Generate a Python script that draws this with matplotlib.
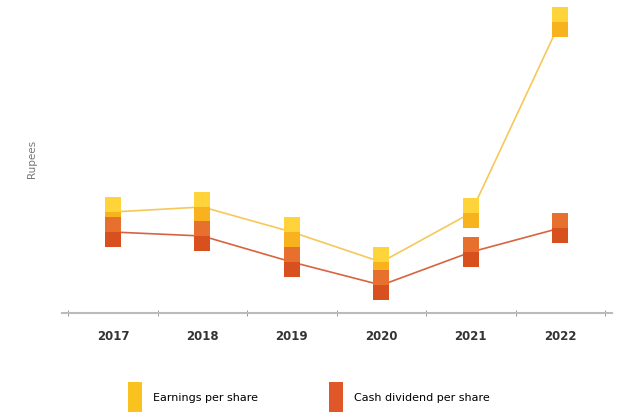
import matplotlib.pyplot as plt
from matplotlib.lines import Line2D
import numpy as np

years = ['2017', '2018', '2019', '2020', '2021', '2022']
earnings = [101, 106, 81, 51, 100, 291]
dividend = [81, 77, 51, 28, 61, 85]

# vertical "pill" markers, drawn as two halves to fake the gradient
top_half = [(-0.5, 0), (0.5, 0), (0.5, 1), (-0.5, 1), (-0.5, 0)]
bot_half = [(-0.5, -1), (0.5, -1), (0.5, 0), (-0.5, 0), (-0.5, -1)]
full_rect = [(-0.45, -1), (0.45, -1), (0.45, 1), (-0.45, 1), (-0.45, -1)]

fig = plt.figure(figsize=(6.26, 4.17), dpi=100)
ax = fig.add_axes([0.099, 0.249, 0.879, 0.74])
x = np.arange(len(years))

ax.plot(x, earnings, color='#f6c85a', lw=1.2, zorder=2)
ax.plot(x, dividend, color='#d8643f', lw=1.2, zorder=2)

ax.plot(x, earnings, ls='none', marker=bot_half, ms=22, color='#f7b21e', mew=0, zorder=3)
ax.plot(x, earnings, ls='none', marker=top_half, ms=22, color='#ffd43a', mew=0, zorder=3)
ax.plot(x, dividend, ls='none', marker=bot_half, ms=22, color='#d9501f', mew=0, zorder=4)
ax.plot(x, dividend, ls='none', marker=top_half, ms=22, color='#e8702f', mew=0, zorder=4)

ax.set_xlim(-0.57, 5.58)
ax.set_ylim(0, 308)
ax.set_yticks([])
ax.set_xticks(x)
ax.set_xticklabels(years, fontsize=8.5, fontweight='semibold', color='#333333')
ax.tick_params(axis='x', length=0, pad=12)
ax.set_xticks(np.arange(-0.5, 5.6, 1), minor=True)
ax.tick_params(axis='x', which='minor', length=4, direction='inout', color='#888888')
for s in ['top', 'right', 'left']:
    ax.spines[s].set_visible(False)
ax.spines['bottom'].set_color('#bbbbbb')
ax.spines['bottom'].set_linewidth(1.5)
ax.set_ylabel('Rupees', fontsize=7.5, color='#777777', labelpad=18)

handles = [
    Line2D([], [], ls='none', marker=full_rect, ms=22, color='#f9c21f', mew=0),
    Line2D([], [], ls='none', marker=full_rect, ms=22, color='#e0582a', mew=0),
]
fig.legend(handles, ['Earnings per share', 'Cash dividend per share'],
           loc='center', bbox_to_anchor=(0.49, 0.045), ncol=2, frameon=False,
           fontsize=8, columnspacing=6, handletextpad=0.6)

fig.savefig('out.png', dpi=100)
